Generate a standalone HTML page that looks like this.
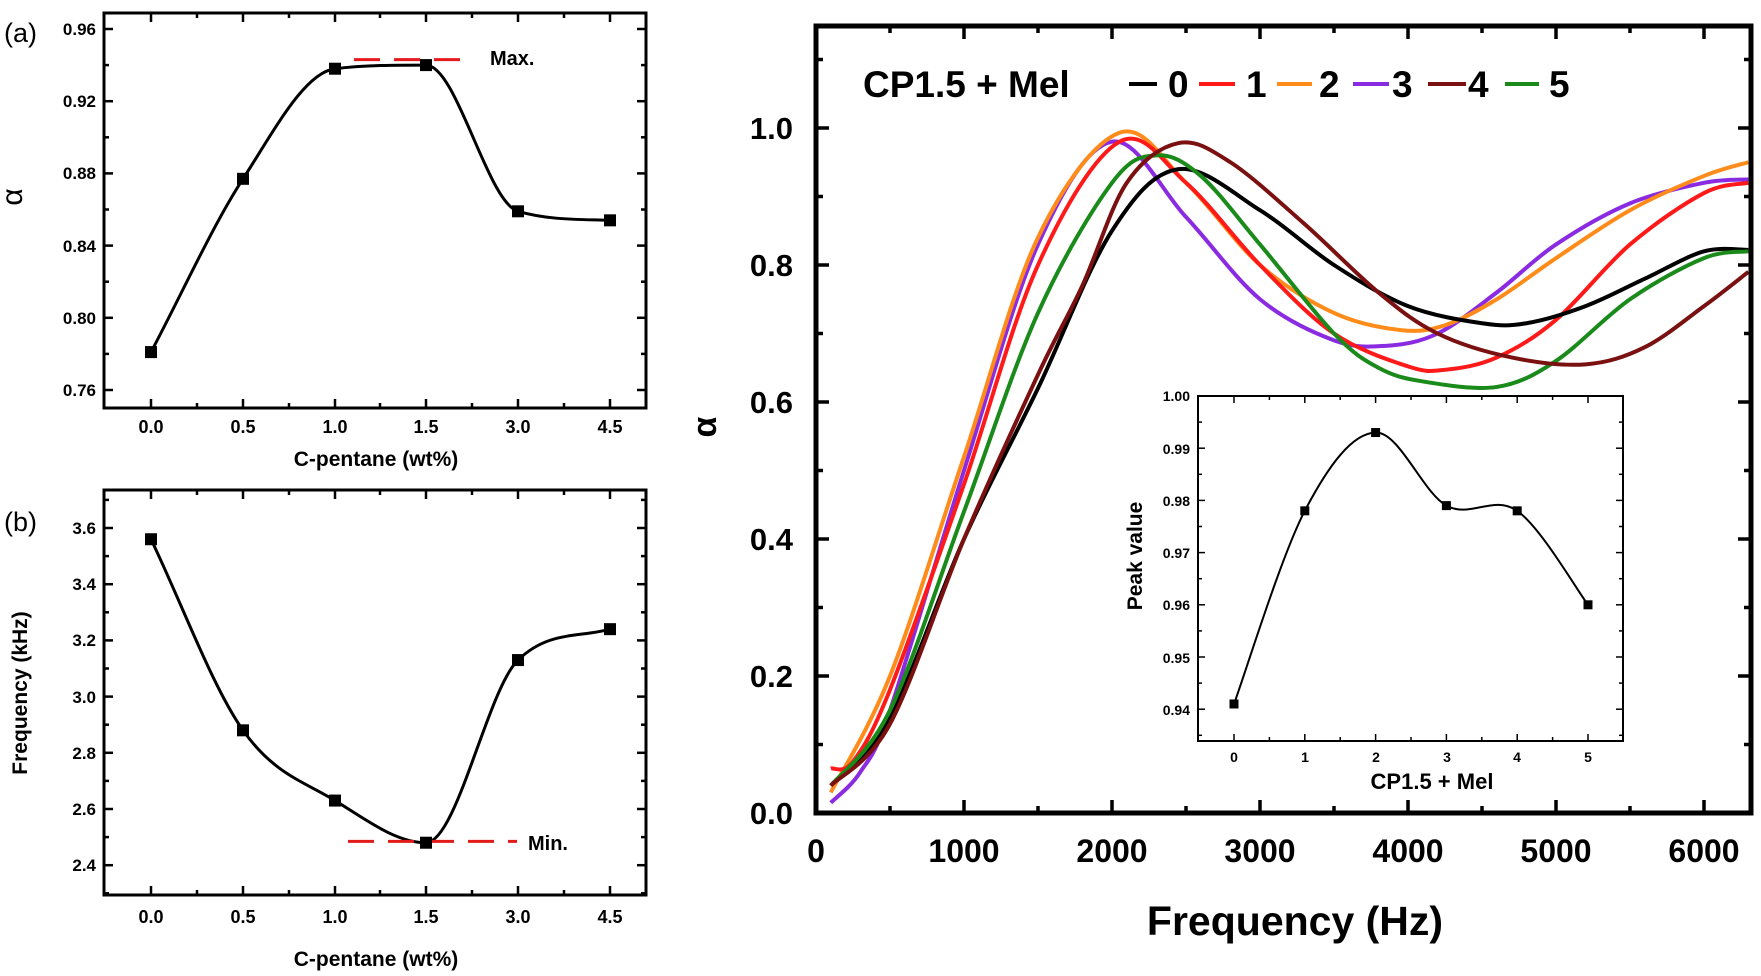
<!DOCTYPE html>
<html><head><meta charset="utf-8"><style>
html,body{margin:0;padding:0;background:#fff;}
svg{display:block;font-family:"Liberation Sans",Arial,sans-serif;font-weight:bold;}
</style></head><body>
<svg id="s" width="1761" height="976" viewBox="0 0 1761 976" xmlns="http://www.w3.org/2000/svg">
<g id="g"></g>
<!-- Panel a text -->
<text x="4" y="42" font-size="27" font-weight="normal">(a)</text>
<g font-size="17" text-anchor="end">
<text x="96" y="35">0.96</text><text x="96" y="107">0.92</text><text x="96" y="179">0.88</text>
<text x="96" y="252">0.84</text><text x="96" y="324">0.80</text><text x="96" y="396">0.76</text>
</g>
<g font-size="18" text-anchor="middle">
<text x="151" y="433">0.0</text><text x="243" y="433">0.5</text><text x="335" y="433">1.0</text>
<text x="426" y="433">1.5</text><text x="518" y="433">3.0</text><text x="610" y="433">4.5</text>
</g>
<text x="376" y="466" font-size="21" text-anchor="middle">C-pentane (wt%)</text>
<text x="30" y="205" font-size="30" font-weight="normal" text-anchor="middle" transform="rotate(-90 22 205)">α</text>
<text x="490" y="65" font-size="20">Max.</text>
<!-- Panel b text -->
<text x="4" y="531" font-size="27" font-weight="normal">(b)</text>
<g font-size="17" text-anchor="end">
<text x="96" y="534">3.6</text><text x="96" y="590">3.4</text><text x="96" y="646">3.2</text>
<text x="96" y="703">3.0</text><text x="96" y="759">2.8</text><text x="96" y="815">2.6</text><text x="96" y="871">2.4</text>
</g>
<g font-size="18" text-anchor="middle">
<text x="151" y="923">0.0</text><text x="243" y="923">0.5</text><text x="335" y="923">1.0</text>
<text x="426" y="923">1.5</text><text x="518" y="923">3.0</text><text x="610" y="923">4.5</text>
</g>
<text x="376" y="966" font-size="21" text-anchor="middle">C-pentane (wt%)</text>
<text x="27" y="693" font-size="21" text-anchor="middle" transform="rotate(-90 27 693)">Frequency (kHz)</text>
<text x="528" y="850" font-size="20">Min.</text>
<!-- Main text -->
<g font-size="31" text-anchor="end">
<text x="793" y="824">0.0</text><text x="793" y="687">0.2</text><text x="793" y="550">0.4</text>
<text x="793" y="413">0.6</text><text x="793" y="276">0.8</text><text x="793" y="139">1.0</text>
</g>
<g font-size="32" text-anchor="middle">
<text x="816" y="862">0</text><text x="964" y="862">1000</text><text x="1112" y="862">2000</text>
<text x="1260" y="862">3000</text><text x="1408" y="862">4000</text><text x="1556" y="862">5000</text><text x="1704" y="862">6000</text>
</g>
<text x="1295" y="935" font-size="41" text-anchor="middle">Frequency (Hz)</text>
<text x="716" y="427" font-size="34" text-anchor="middle" transform="rotate(-90 716 427)">α</text>
<g font-size="37">
<text x="863" y="97">CP1.5 + Mel</text>
<text x="1168" y="97">0</text><text x="1246" y="97">1</text><text x="1319" y="97">2</text>
<text x="1392" y="97">3</text><text x="1468" y="97">4</text><text x="1549" y="97">5</text>
</g>
<!-- inset text -->
<g font-size="14" text-anchor="end">
<text x="1190" y="401">1.00</text><text x="1190" y="454">0.99</text><text x="1190" y="506">0.98</text>
<text x="1190" y="558">0.97</text><text x="1190" y="610">0.96</text><text x="1190" y="663">0.95</text><text x="1190" y="715">0.94</text>
</g>
<g font-size="14" text-anchor="middle">
<text x="1234" y="762">0</text><text x="1305" y="762">1</text><text x="1376" y="762">2</text>
<text x="1447" y="762">3</text><text x="1517" y="762">4</text><text x="1588" y="762">5</text>
</g>
<text x="1432" y="789" font-size="22" text-anchor="middle">CP1.5 + Mel</text>
<text x="1142" y="556" font-size="21" text-anchor="middle" transform="rotate(-90 1142 556)">Peak value</text>
</svg>
<script>
var NS="http://www.w3.org/2000/svg",G=document.getElementById("g");
function el(t,a){var e=document.createElementNS(NS,t);for(var k in a)e.setAttribute(k,a[k]);G.appendChild(e);return e;}
function smooth(p){var d="M"+p[0][0]+","+p[0][1];for(var i=0;i<p.length-1;i++){var p0=p[i-1]||p[i],p1=p[i],p2=p[i+1],p3=p[i+2]||p2;
d+=" C"+(p1[0]+(p2[0]-p0[0])/6)+","+(p1[1]+(p2[1]-p0[1])/6)+" "+(p2[0]-(p3[0]-p1[0])/6)+","+(p2[1]-(p3[1]-p1[1])/6)+" "+p2[0]+","+p2[1];}return d;}
function mono(p){var n=p.length,dl=[],m=[];for(var i=0;i<n-1;i++)dl.push((p[i+1][1]-p[i][1])/(p[i+1][0]-p[i][0]));
m[0]=dl[0];m[n-1]=dl[n-2];for(var i=1;i<n-1;i++){m[i]=(dl[i-1]*dl[i]<=0)?0:(dl[i-1]+dl[i])/2;}
for(var i=0;i<n-1;i++){if(dl[i]==0){m[i]=m[i+1]=0;continue;}var a=m[i]/dl[i],b=m[i+1]/dl[i],s=a*a+b*b;if(s>9){var t=3/Math.sqrt(s);m[i]=t*a*dl[i];m[i+1]=t*b*dl[i];}}
var d="M"+p[0][0]+","+p[0][1];for(var i=0;i<n-1;i++){var h=(p[i+1][0]-p[i][0])/3;d+=" C"+(p[i][0]+h)+","+(p[i][1]+m[i]*h)+" "+(p[i+1][0]-h)+","+(p[i+1][1]-m[i+1]*h)+" "+p[i+1][0]+","+p[i+1][1];}return d;}
function frame(x0,y0,x1,y1,w){el("rect",{x:x0,y:y0,width:x1-x0,height:y1-y0,fill:"none",stroke:"#000","stroke-width":w});}
function tick(x,y,dx,dy,w){el("line",{x1:x,y1:y,x2:x+dx,y2:y+dy,stroke:"#000","stroke-width":w});}
var cp=el("clipPath",{id:"c"});var r=document.createElementNS(NS,"rect");r.setAttribute("x",816);r.setAttribute("y",26);r.setAttribute("width",935);r.setAttribute("height",787);cp.appendChild(r);
// Panel a
var ax=[151,243,335,426,518,610];
function pa(v){return 29+(0.96-v)/0.04*72.2;}
frame(104,13,646,408,3);
for(var v=0.76;v<=0.97;v+=0.02){var y=pa(v);var L=(Math.round(v*100)%4==0)?9:5;tick(104,y,L,0,2.5);tick(646,y,-L,0,2.5);}
for(var i=0;i<6;i++){tick(ax[i],408,0,-9,2.5);tick(ax[i],13,0,9,2.5);}
[197,289,380,472,564].forEach(function(x){tick(x,408,0,-5,2.5);tick(x,13,0,5,2.5);});
var da=[0.781,0.877,0.938,0.940,0.859,0.854];
el("path",{d:mono(da.map(function(v,i){return[ax[i],pa(v)];})),fill:"none",stroke:"#000","stroke-width":3});
el("line",{x1:354,y1:pa(0.943),x2:470,y2:pa(0.943),stroke:"#e21a1a","stroke-width":3,"stroke-dasharray":"26,14"});
da.forEach(function(v,i){el("rect",{x:ax[i]-6,y:pa(v)-6,width:12,height:12,fill:"#000"});});
// Panel b
function pb(v){return 528+(3.6-v)/0.2*56.2;}
frame(104,490,646,895,3);
for(var v=2.3;v<=3.71;v+=0.1){var y=pb(v);var L=(Math.round(v*10)%2==0)?9:5;tick(104,y,L,0,2.5);tick(646,y,-L,0,2.5);}
for(var i=0;i<6;i++){tick(ax[i],895,0,-9,2.5);tick(ax[i],490,0,9,2.5);}
[197,289,380,472,564].forEach(function(x){tick(x,895,0,-5,2.5);tick(x,490,0,5,2.5);});
var db=[3.56,2.88,2.63,2.48,3.13,3.24];
el("path",{d:mono(db.map(function(v,i){return[ax[i],pb(v)];})),fill:"none",stroke:"#000","stroke-width":3});
el("line",{x1:348,y1:pb(2.485),x2:517,y2:pb(2.485),stroke:"#e21a1a","stroke-width":3,"stroke-dasharray":"26,14"});
db.forEach(function(v,i){el("rect",{x:ax[i]-6,y:pb(v)-6,width:12,height:12,fill:"#000"});});
// Main
function mx(h){return 816+h*0.148;}function my(a){return 813-a*685;}
for(var h=0;h<=6300;h+=500){var L=(h%1000==0)?13:7;tick(mx(h),813,0,-L,3.5);tick(mx(h),26,0,L,3.5);}
for(var a=0;a<=1.15;a+=0.1){var L=(Math.round(a*10)%2==0)?13:7;tick(816,my(a),L,0,3.5);tick(1751,my(a),-L,0,3.5);}
var S={
"#000000":[[100,.04],[500,.14],[1000,.40],[1500,.62],[2000,.85],[2450,.94],[3000,.88],[3500,.80],[4000,.74],[4500,.715],[4800,.715],[5200,.74],[5600,.78],[6000,.82],[6300,.822]],
"#ff1a1a":[[100,.065],[250,.075],[500,.18],[1000,.48],[1500,.80],[2050,.98],[2500,.92],[3000,.80],[3500,.70],[4000,.652],[4250,.647],[4600,.665],[5000,.72],[5500,.83],[6000,.905],[6300,.92]],
"#ff8c1a":[[100,.03],[500,.20],[1000,.52],[1500,.84],[2050,.993],[2500,.92],[3000,.80],[3500,.73],[3950,.705],[4250,.712],[4600,.75],[5000,.81],[5500,.88],[6000,.93],[6300,.95]],
"#8a2be2":[[100,.015],[300,.06],[500,.15],[1000,.50],[1500,.83],[2000,.98],[2500,.87],[3000,.75],[3500,.69],[3850,.682],[4200,.70],[4600,.76],[5000,.83],[5500,.89],[6000,.92],[6300,.925]],
"#7a1010":[[100,.04],[500,.13],[1000,.40],[1500,.64],[1800,.77],[2100,.92],[2450,.978],[2800,.95],[3300,.86],[3800,.76],[4200,.70],[4700,.665],[5200,.655],[5600,.68],[6000,.74],[6300,.79]],
"#1a8a1a":[[100,.04],[500,.15],[1000,.44],[1500,.73],[2000,.92],[2300,.96],[2600,.93],[3000,.83],[3500,.70],[3800,.65],[4100,.63],[4600,.622],[5000,.66],[5500,.75],[6000,.81],[6300,.82]]};
var order=["#8a2be2","#ff8c1a","#ff1a1a","#000000","#1a8a1a","#7a1010"];
order.forEach(function(c){el("path",{d:smooth(S[c].map(function(p){return[mx(p[0]),my(p[1])];})),fill:"none",stroke:c,"stroke-width":4,"clip-path":"url(#c)"});});
frame(816,26,1751,813,5);
var lg=[[1129,1157,"#000"],[1199,1235,"#ff1a1a"],[1277,1312,"#ff8c1a"],[1353,1389,"#8a2be2"],[1428,1466,"#7a1010"],[1505,1539,"#1a8a1a"]];
lg.forEach(function(l){el("line",{x1:l[0],y1:84,x2:l[1],y2:84,stroke:l[2],"stroke-width":4});});
// Inset
el("rect",{x:1198,y:396,width:425,height:345,fill:"#fff"});
function iy(v){return 396+(1.0-v)/0.01*52.2;}function ix(i){return 1234+i*70.8;}
for(var v=0.935;v<=1.0001;v+=0.005){var L=(Math.round(v*1000)%10==0)?7:4;tick(1198,iy(v),L,0,1.5);tick(1623,iy(v),-L,0,1.5);}
for(var k=-1;k<=11;k++){var x=1234+k*35.4;if(x<1199||x>1622)continue;var L=(k%2==0)?7:4;tick(x,741,0,-L,1.5);tick(x,396,0,L,1.5);}
var di=[0.941,0.978,0.993,0.979,0.978,0.960];
el("path",{d:smooth(di.map(function(v,i){return[ix(i),iy(v)];})),fill:"none",stroke:"#000","stroke-width":2});
di.forEach(function(v,i){el("rect",{x:ix(i)-4.5,y:iy(v)-4.5,width:9,height:9,fill:"#000"});});
frame(1198,396,1623,741,2);
</script>
</body></html>
